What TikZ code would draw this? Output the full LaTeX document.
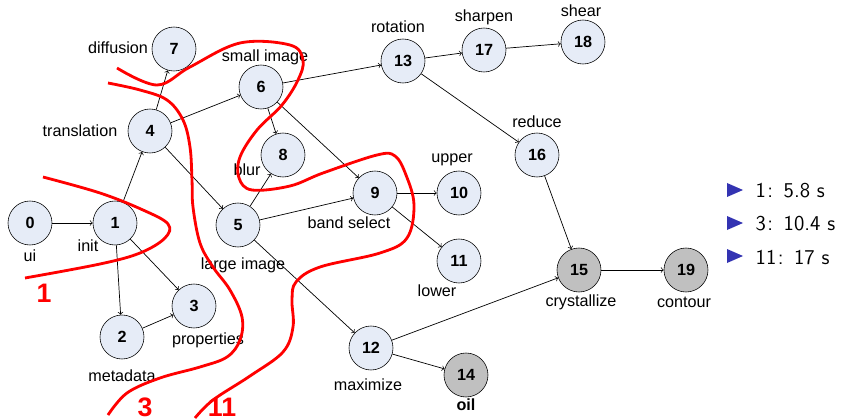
\documentclass[tikz,border=0pt]{standalone}
\usepackage{fontspec}
\setmainfont{Liberation Sans}
\usetikzlibrary{arrows}

\definecolor{taskblue}{HTML}{E6ECF7}
\definecolor{sinkgray}{HTML}{C0C0C0}
\definecolor{legblue}{rgb}{0.2,0.2,0.7}

\begin{document}
\begin{tikzpicture}
  [x=0.025cm,y=-0.025cm,
   every node/.style={font=\fontsize{11.5}{13}\selectfont,inner sep=1pt},
   task/.style={circle,draw,fill=taskblue,minimum size=1.1cm,inner sep=0pt,
     font=\fontsize{11.5}{13}\selectfont\bfseries},
   sink/.style={task,fill=sinkgray},
   cut/.style={red,line width=2pt,smooth,tension=0.6},
   cutnum/.style={text=red,font=\fontsize{19}{22}\selectfont\bfseries},
   legend/.style={anchor=west,font=\fontsize{15}{18}\selectfont\sffamily}]
  \useasboundingbox (0,0) rectangle (844,420);

  % tasks
  \node[task] (T_0) at (30,223) {0};
  \node[task] (T_1) at (115,223) {1};
  \node[task] (T_2) at (122,337) {2};
  \node[task] (T_3) at (194,306) {3};
  \node[task] (T_4) at (150,131) {4};
  \node[task] (T_5) at (238,225) {5};
  \node[task] (T_6) at (261,87) {6};
  \node[task] (T_7) at (174,49) {7};
  \node[task] (T_8) at (283,155) {8};
  \node[task] (T_9) at (375,193) {9};
  \node[task] (T_10) at (459,193) {10};
  \node[task] (T_11) at (459,261) {11};
  \node[task] (T_12) at (371,348) {12};
  \node[task] (T_13) at (403,61) {13};
  \node[sink] (T_14) at (466,375) {14};
  \node[sink] (T_15) at (579,270) {15};
  \node[task] (T_16) at (537,155) {16};
  \node[task] (T_17) at (484,50) {17};
  \node[task] (T_18) at (583,42) {18};
  \node[sink] (T_19) at (686,270) {19};

  % names
  \node (L_0) at (30,256) {ui};
  \node (L_1) at (88,246) {init};
  \node (L_2) at (122,376) {metadata};
  \node (L_3) at (208,340) {properties};
  \node (L_4) at (80,131) {translation};
  \node (L_5) at (243,265) {large image};
  \node (L_6) at (265,57) {small image};
  \node (L_7) at (118,48) {diffusion};
  \node (L_8) at (247,170) {blur};
  \node (L_9) at (349,223) {band select};
  \node (L_10) at (452,160) {upper};
  \node (L_11) at (437,291) {lower};
  \node (L_12) at (368,385) {maximize};
  \node (L_13) at (398,27) {rotation};
  \node[font=\fontsize{11.5}{13}\selectfont\bfseries] (L_14) at (466,405) {oil};
  \node (L_15) at (581,302) {crystallize};
  \node (L_16) at (537,122) {reduce};
  \node (L_17) at (484,17) {sharpen};
  \node (L_18) at (581,11) {shear};
  \node (L_19) at (684,302) {contour};

  \foreach \from/\to in {T_0/T_1,T_1/T_4,T_1/T_2,T_1/T_3,T_2/T_3,T_4/T_7,
      T_4/T_6,T_4/T_5,T_5/T_8,T_5/T_9,T_5/T_12,T_6/T_8,T_6/T_9,T_6/T_13,
      T_9/T_10,T_9/T_11,T_12/T_15,T_12/T_14,T_13/T_17,T_13/T_16,
      T_17/T_18,T_16/T_15,T_15/T_19}
    \draw[->,line width=0.5pt] (\from) -- (\to);

  % cuts
  \draw[cut] plot coordinates {(43,177) (100,193) (143,210) (168,224)
    (165,238) (140,253) (100,264) (25,278)};
  \draw[cut] plot coordinates {(108,83) (140,90) (167,100) (183,120)
    (190,147) (192,180) (193,207) (200,243) (213,267) (230,290) (242,317)
    (240,340) (227,357) (200,367) (160,378) (127,393) (108,415)};
  \draw[cut] plot coordinates {(117,68) (157,85) (190,67) (240,43) (290,45)
    (303,60) (298,80) (282,105) (257,130) (240,157) (239,178) (252,190)
    (290,186) (323,173) (377,155) (395,156) (406,175) (414,205) (407,238)
    (380,253) (320,267) (296,282) (292,300) (293,327) (283,352) (250,376)
    (213,400) (195,418)};
  \node[cutnum] (C_1) at (44,293) {1};
  \node[cutnum] (C_3) at (145,407) {3};
  \node[cutnum] (C_11) at (222,407) {11};

  % timings
  \foreach \y in {190,223,256}
    \fill[legblue] (727,\y-7) -- (743,\y) -- (727,\y+7) -- cycle;
  \node[legend] (M_1) at (754,191) {1\kern1pt:\enspace5.8 s};
  \node[legend] (M_3) at (754,224) {3\kern1pt:\enspace10.4 s};
  \node[legend] (M_11) at (754,257) {11\kern1pt:\enspace17 s};
\end{tikzpicture}
\end{document}
